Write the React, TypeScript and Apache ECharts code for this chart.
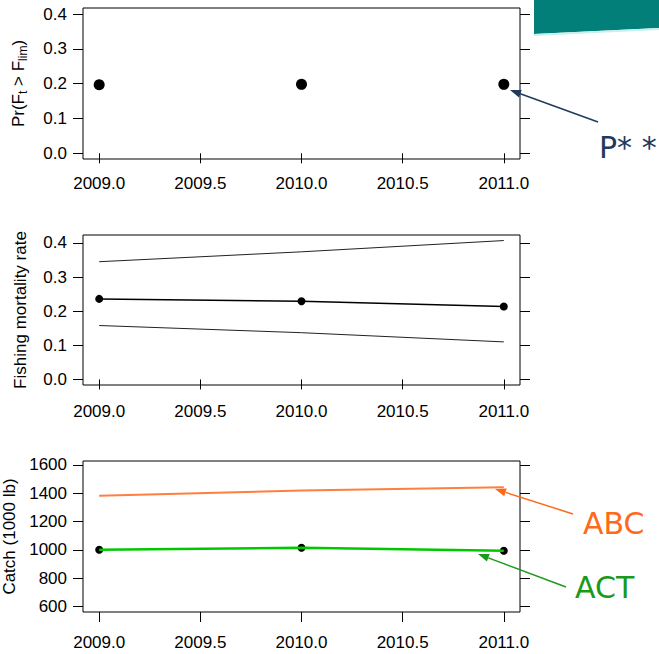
import React, { useEffect, useRef } from "react";
import * as echarts from "echarts";

const years = [2009, 2010, 2011];
const xTicks = [2009, 2009.5, 2010, 2010.5, 2011];
const prOverfish = [0.197, 0.198, 0.198];
const prTicks = [0, 0.1, 0.2, 0.3, 0.4];
const fMedian = [0.236, 0.229, 0.214];
const fUpper = [0.345, 0.374, 0.407];
const fLower = [0.158, 0.137, 0.11];
const fTicks = [0, 0.1, 0.2, 0.3, 0.4];
const abc = [1383, 1420, 1442];
const act = [1002, 1015, 994];
const catchTicks = [600, 800, 1000, 1200, 1400, 1600];

const FONT = "'Liberation Sans', Arial, sans-serif";

function pairs(vals: number[]) {
  return years.map((y, i) => [y, vals[i]]);
}

function arrow(x1: number, y1: number, x2: number, y2: number, color: string) {
  const dx = x2 - x1, dy = y2 - y1;
  const len = Math.sqrt(dx * dx + dy * dy);
  const ux = dx / len, uy = dy / len;
  const hl = 11, hw = 4;
  const bx = x2 - ux * hl, by = y2 - uy * hl;
  return [
    { type: "line", shape: { x1, y1, x2: bx, y2: by }, style: { stroke: color, lineWidth: 1.5 } },
    {
      type: "polygon",
      shape: { points: [[x2, y2], [bx - uy * hw, by + ux * hw], [bx + uy * hw, by - ux * hw]] },
      style: { fill: color },
    },
  ];
}

export default function App() {
  const ref = useRef<HTMLDivElement>(null);
  useEffect(() => {
    if (!ref.current) return;
    const chart = echarts.init(ref.current, null, { renderer: "svg" });
    const grids = [
      { left: 83, width: 437, top: 8, height: 151 },
      { left: 83, width: 437, top: 235, height: 150 },
      { left: 83, width: 437, top: 461, height: 151 },
    ].map((g) => ({
      ...g,
      show: true,
      borderColor: "#000",
      borderWidth: 1,
      backgroundColor: "transparent",
      containLabel: false,
      outerBoundsMode: "none",
    }));
    const xMargins = [16, 18, 22];
    const xAxes = grids.map((_, i) => ({
      type: "value",
      gridIndex: i,
      min: 2008.92,
      max: 2011.08,
      axisLine: { show: false },
      splitLine: { show: false },
      axisTick: { show: true, length: 10, lineStyle: { color: "#000" }, customValues: xTicks },
      axisLabel: {
        customValues: xTicks,
        formatter: (v: number) => v.toFixed(1),
        fontFamily: FONT,
        fontSize: 17,
        color: "#000",
        margin: xMargins[i],
      },
    }));
    const yCfg = [
      { min: -0.0163, max: 0.4173, ticks: prTicks, fmt: (v: number) => v.toFixed(1), name: "Pr(F{s|t} > F{s|lim})" },
      { min: -0.0163, max: 0.4233, ticks: fTicks, fmt: (v: number) => v.toFixed(1), name: "Fishing mortality rate" },
      { min: 562, max: 1628, ticks: catchTicks, fmt: (v: number) => String(v), name: "Catch (1000 lb)" },
    ];
    const yAxes: any[] = [];
    yCfg.forEach((c, i) => {
      yAxes.push({
        type: "value",
        gridIndex: i,
        position: "left",
        min: c.min,
        max: c.max,
        name: c.name,
        nameLocation: "middle",
        nameGap: 54,
        nameRotate: 90,
        nameTextStyle: {
          fontFamily: FONT,
          fontSize: 17,
          color: "#000",
          rich: { s: { fontFamily: FONT, fontSize: 12, color: "#000", padding: [10, 0, 0, 0] } },
        },
        axisLine: { show: false },
        splitLine: { show: false },
        axisTick: { show: true, length: 10, lineStyle: { color: "#000" }, customValues: c.ticks },
        axisLabel: { customValues: c.ticks, formatter: c.fmt, fontFamily: FONT, fontSize: 17, color: "#000", margin: 16 },
      });
      yAxes.push({
        type: "value",
        gridIndex: i,
        position: "right",
        min: c.min,
        max: c.max,
        axisLine: { show: false },
        splitLine: { show: false },
        axisTick: { show: true, length: 10, lineStyle: { color: "#000" }, customValues: c.ticks },
        axisLabel: { show: false, customValues: c.ticks },
      });
    });

    const graphic: any[] = [
      {
        type: "polygon",
        shape: { points: [[534, 0], [659, 0], [659, 28], [534, 34]] },
        style: { fill: "#017f78" },
      },
      {
        type: "polyline",
        shape: { points: [[534, 35], [659, 29]] },
        style: { stroke: "#c8f0ee", lineWidth: 2 },
      },
      ...arrow(598, 122, 510, 90, "#1f3a5c"),
      ...arrow(573, 514, 495, 489, "#ff6a1a"),
      ...arrow(566, 587, 478, 554, "#1a9a1a"),
      {
        type: "text",
        style: { x: 599, y: 147, text: "P* *", fontFamily: "DejaVu Sans", fontSize: 30, fill: "#1f3a5c", textVerticalAlign: "middle" },
      },
      {
        type: "text",
        style: { x: 583, y: 523, text: "ABC", fontFamily: "DejaVu Sans", fontSize: 30, fill: "#ff6a1a", textVerticalAlign: "middle" },
      },
      {
        type: "text",
        style: { x: 575, y: 587, text: "ACT", fontFamily: "DejaVu Sans", fontSize: 30, fill: "#1a9a1a", textVerticalAlign: "middle" },
      },
    ];

    chart.setOption({
      animation: false,
      backgroundColor: "#fff",
      grid: grids,
      xAxis: xAxes,
      yAxis: yAxes,
      graphic,
      series: [
        {
          type: "scatter",
          xAxisIndex: 0,
          yAxisIndex: 0,
          data: pairs(prOverfish),
          symbolSize: 11,
          itemStyle: { color: "#000", opacity: 1 },
        },
        {
          type: "line",
          xAxisIndex: 1,
          yAxisIndex: 2,
          data: pairs(fUpper),
          showSymbol: false,
          lineStyle: { color: "#222", width: 1 },
        },
        {
          type: "line",
          xAxisIndex: 1,
          yAxisIndex: 2,
          data: pairs(fLower),
          showSymbol: false,
          lineStyle: { color: "#222", width: 1 },
        },
        {
          type: "line",
          xAxisIndex: 1,
          yAxisIndex: 2,
          data: pairs(fMedian),
          symbol: "circle",
          symbolSize: 8,
          itemStyle: { color: "#000", opacity: 1 },
          lineStyle: { color: "#000", width: 1.5 },
        },
        {
          type: "line",
          xAxisIndex: 2,
          yAxisIndex: 4,
          data: pairs(abc),
          showSymbol: false,
          lineStyle: { color: "#ff7f40", width: 2 },
        },
        {
          type: "scatter",
          xAxisIndex: 2,
          yAxisIndex: 4,
          data: pairs(act),
          symbolSize: 8,
          itemStyle: { color: "#000", opacity: 1 },
        },
        {
          type: "line",
          xAxisIndex: 2,
          yAxisIndex: 4,
          data: pairs(act),
          showSymbol: false,
          lineStyle: { color: "#00c800", width: 2.5 },
        },
      ],
    });
    return () => chart.dispose();
  }, []);
  return <div ref={ref} style={{ width: 659, height: 654, position: "absolute", left: 0, top: 0 }} />;
}
